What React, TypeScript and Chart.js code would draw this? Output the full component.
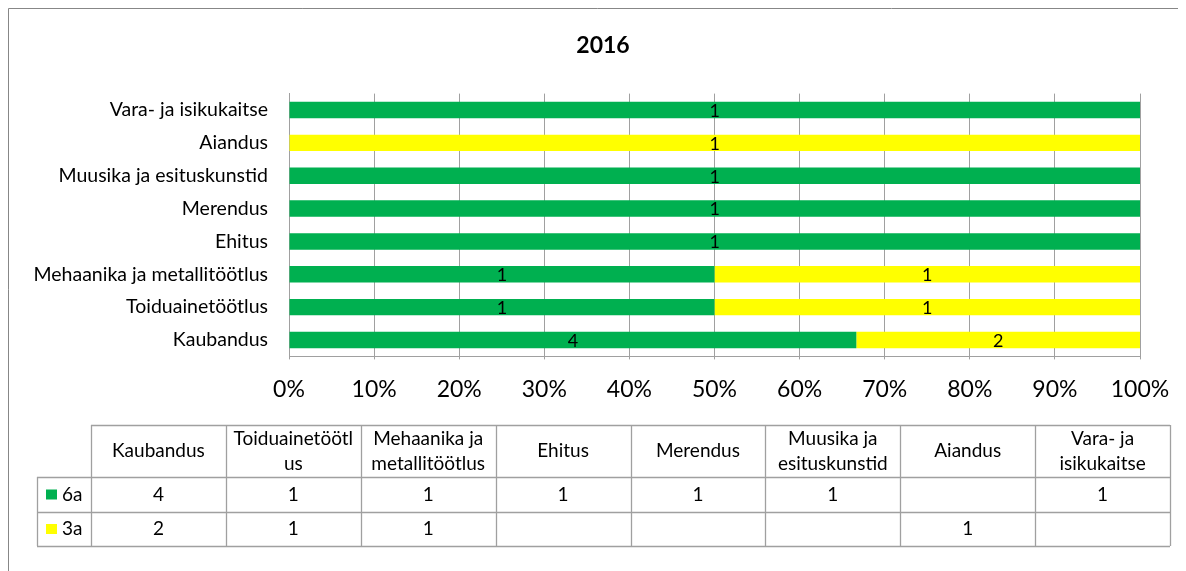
import { useEffect, useRef } from 'react';
import { Chart, registerables } from 'chart.js';

Chart.register(...registerables);

const chartTitle = '2016';
const categories = [
  'Kaubandus',
  'Toiduainetöötlus',
  'Mehaanika ja metallitöötlus',
  'Ehitus',
  'Merendus',
  'Muusika ja esituskunstid',
  'Aiandus',
  'Vara- ja isikukaitse',
];
const tableHeaderLines = [
  ['Kaubandus'],
  ['Toiduainetöötl', 'us'],
  ['Mehaanika ja', 'metallitöötlus'],
  ['Ehitus'],
  ['Merendus'],
  ['Muusika ja', 'esituskunstid'],
  ['Aiandus'],
  ['Vara- ja', 'isikukaitse'],
];
const seriesNames = ['6a', '3a'];
const seriesColors = ['#00B050', '#FFFF00'];
const values6a: (number | null)[] = [4, 1, 1, 1, 1, 1, null, 1];
const values3a: (number | null)[] = [2, 1, 1, null, null, null, 1, null];
const seriesValues = [values6a, values3a];

const FONT = 'Lato, "Open Sans", sans-serif';
const GRID = '#a0a0a0';

const totals = categories.map((_, i) =>
  seriesValues.reduce((s, arr) => s + (arr[i] ?? 0), 0)
);
const toPct = (arr: (number | null)[]) =>
  arr.map((v, i) => (v == null ? null : (v / totals[i]) * 100));

const labelPlugin = {
  id: 'segLabels',
  afterDatasetsDraw(chart: any) {
    const ctx = chart.ctx;
    ctx.save();
    ctx.font = `18px ${FONT}`;
    ctx.fillStyle = '#000';
    ctx.textAlign = 'center';
    ctx.textBaseline = 'middle';
    chart.data.datasets.forEach((ds: any, di: number) => {
      const meta = chart.getDatasetMeta(di);
      meta.data.forEach((bar: any, i: number) => {
        const raw = seriesValues[di][i];
        if (raw == null) return;
        const cx = (bar.x + bar.base) / 2;
        ctx.fillText(String(raw), cx, bar.y + 1);
      });
    });
    ctx.restore();
  },
};

const frameTablePlugin = {
  id: 'frameTable',
  afterDraw(chart: any) {
    const ctx = chart.ctx;
    ctx.save();
    // outer frame (top & left visible)
    ctx.strokeStyle = '#878787';
    ctx.lineWidth = 1;
    ctx.beginPath();
    ctx.moveTo(0.5, 563);
    ctx.lineTo(0.5, 0.5);
    ctx.lineTo(1178, 0.5);
    ctx.stroke();

    // title
    ctx.fillStyle = '#000';
    ctx.font = `bold 23px ${FONT}`;
    ctx.textAlign = 'center';
    ctx.textBaseline = 'middle';
    ctx.fillText(chartTitle, 595, 38);

    // data table
    const colX0 = 83;
    const colW = 134.875;
    const legX0 = 29;
    const yHead = 417;
    const yR1 = 469;
    const yR2 = 504;
    const yEnd = 538;
    const n = categories.length;
    const crisp = (v: number) => Math.round(v) + 0.5;
    ctx.strokeStyle = GRID;
    ctx.lineWidth = 1.3;
    ctx.beginPath();
    ctx.moveTo(colX0, crisp(yHead));
    ctx.lineTo(colX0 + n * colW, crisp(yHead));
    [yR1, yR2, yEnd].forEach((y) => {
      ctx.moveTo(legX0, crisp(y));
      ctx.lineTo(colX0 + n * colW, crisp(y));
    });
    ctx.moveTo(crisp(legX0), yR1);
    ctx.lineTo(crisp(legX0), yEnd);
    for (let i = 0; i <= n; i++) {
      const x = crisp(colX0 + i * colW);
      ctx.moveTo(x, yHead);
      ctx.lineTo(x, yEnd);
    }
    ctx.stroke();

    ctx.font = `19px ${FONT}`;
    ctx.fillStyle = '#000';
    ctx.textAlign = 'center';
    ctx.textBaseline = 'middle';
    tableHeaderLines.forEach((lines, i) => {
      const cx = colX0 + (i + 0.5) * colW;
      const cy = (yHead + yR1) / 2;
      const lh = 25;
      lines.forEach((t, li) => {
        ctx.fillText(t, cx, cy + (li - (lines.length - 1) / 2) * lh);
      });
    });
    const rowsY = [(yR1 + yR2) / 2, (yR2 + yEnd) / 2];
    seriesValues.forEach((arr, si) => {
      arr.forEach((v, i) => {
        if (v == null) return;
        ctx.fillText(String(v), colX0 + (i + 0.5) * colW, rowsY[si]);
      });
      ctx.fillStyle = seriesColors[si];
      ctx.fillRect(38, rowsY[si] - 5, 11, 10);
      ctx.fillStyle = '#000';
      ctx.textAlign = 'left';
      ctx.fillText(seriesNames[si], 54, rowsY[si]);
      ctx.textAlign = 'center';
    });
    ctx.restore();
  },
};

export default function App() {
  const ref = useRef<HTMLCanvasElement | null>(null);
  useEffect(() => {
    if (!ref.current) return;
    const chart = new Chart(ref.current, {
      type: 'bar',
      data: {
        labels: categories,
        datasets: seriesValues.map((arr, i) => ({
          label: seriesNames[i],
          data: toPct(arr) as any,
          backgroundColor: seriesColors[i],
          borderWidth: 0,
          barPercentage: 0.5,
          categoryPercentage: 1,
        })),
      },
      options: {
        indexAxis: 'y',
        animation: false,
        responsive: false,
        devicePixelRatio: 1,
        layout: { padding: { left: 0, right: 46, top: 85.6, bottom: 164.6 } },
        plugins: {
          legend: { display: false },
          title: { display: false },
          tooltip: { enabled: false },
        },
        scales: {
          x: {
            stacked: true,
            min: 0,
            max: 100,
            ticks: {
              stepSize: 10,
              padding: 16,
              color: '#000',
              font: { family: FONT, size: 23 },
              callback: (v: any) => v + '%',
            },
            grid: { color: GRID, lineWidth: 1, drawTicks: true, tickLength: 3 },
            border: { color: GRID, width: 1 },
            afterFit: (s: any) => {
              s.height = 50;
            },
          },
          y: {
            stacked: true,
            reverse: true,
            ticks: {
              padding: 21,
              color: '#000',
              font: { family: FONT, size: 19.5 },
            },
            grid: { display: false, drawTicks: false },
            border: { color: GRID, width: 1 },
            afterFit: (s: any) => {
              s.width = 281;
            },
          },
        },
      },
      plugins: [labelPlugin, frameTablePlugin],
    });
    return () => chart.destroy();
  }, []);
  return (
    <canvas
      ref={ref}
      width={1178}
      height={563}
      style={{ display: 'block', width: 1178, height: 563 }}
    />
  );
}
